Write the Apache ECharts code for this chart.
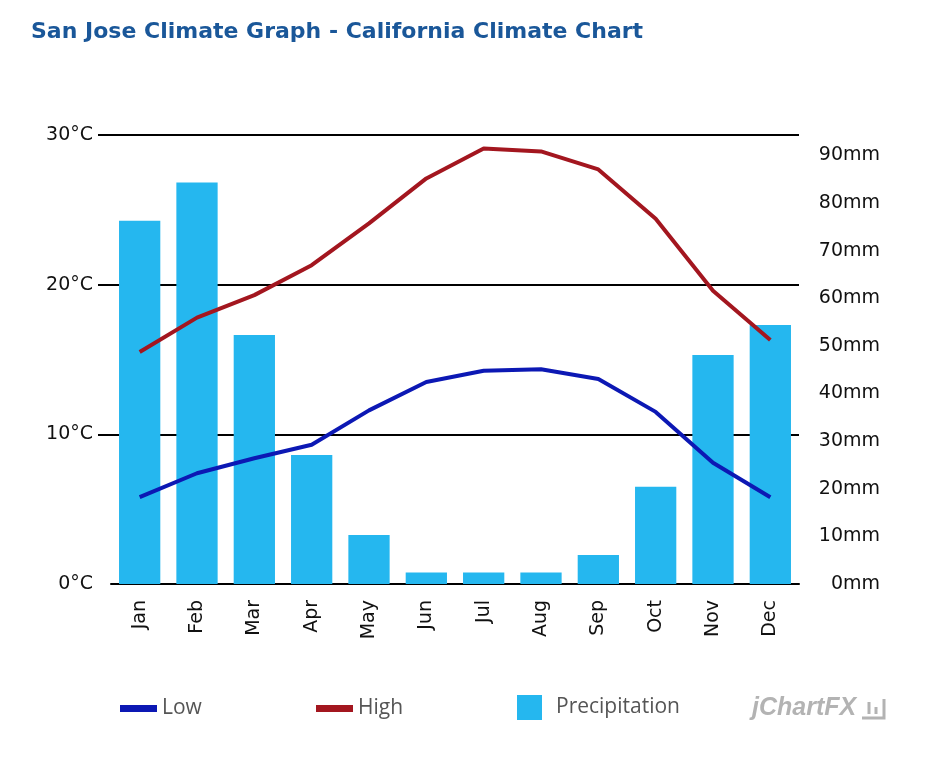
<!DOCTYPE html>
<html>
<head>
<meta charset="utf-8">
<script src="https://cdn.jsdelivr.net/npm/echarts@6/dist/echarts.min.js"></script>
<style>html,body{margin:0;padding:0;background:#fff}#c{width:926px;height:760px}</style>
</head>
<body>
<div id="c"></div>
<script>
const months = ['Jan','Feb','Mar','Apr','May','Jun','Jul','Aug','Sep','Oct','Nov','Dec'];
const lowC = [5.8, 7.4, 8.4, 9.3, 11.6, 13.5, 14.25, 14.35, 13.7, 11.5, 8.1, 5.8];
const highC = [15.5, 17.8, 19.3, 21.3, 24.1, 27.1, 29.1, 28.9, 27.7, 24.4, 19.6, 16.3];
const precipMm = [76.3, 84.3, 52.3, 27.1, 10.3, 2.4, 2.4, 2.4, 6.1, 20.4, 48.1, 54.4];
const tempTicks = [0, 10, 20, 30];
const precipMax = 94.3;

const chart = echarts.init(document.getElementById('c'), null, {renderer: 'canvas'});
const axisFont = {fontFamily: 'DejaVu Sans', fontSize: 19, color: '#111'};
const legendText = {fontFamily: 'Open Sans', fontSize: 21, color: '#555'};

chart.setOption({
  animation: false,
  title: {
    text: 'San Jose Climate Graph - California Climate Chart',
    left: 26, top: 16,
    textStyle: {fontFamily: 'DejaVu Sans', fontWeight: 'bold', fontSize: 22, color: '#1a5799'}
  },
  legend: [
    {data: ['Low'], left: 115, top: 693, icon: 'rect', itemWidth: 37, itemHeight: 7, textStyle: legendText},
    {data: ['High'], left: 311, top: 693, icon: 'rect', itemWidth: 37, itemHeight: 7, textStyle: legendText},
    {data: ['Precipitation'], left: 512, top: 690, icon: 'rect', itemWidth: 25, itemHeight: 25,
     textStyle: Object.assign({padding: [0, 0, 0, 9]}, legendText)}
  ],
  grid: {left: 111, right: 127, top: 135, bottom: 176, containLabel: false},
  xAxis: {
    type: 'category', data: months,
    axisLine: {show: true, lineStyle: {color: '#000', width: 2}},
    axisTick: {show: false},
    axisLabel: Object.assign({rotate: 90, margin: 16}, axisFont)
  },
  yAxis: [
    {
      type: 'value', min: tempTicks[0], max: tempTicks[tempTicks.length - 1], interval: 10,
      axisLine: {show: false},
      axisTick: {show: true, length: 13, lineStyle: {color: '#000', width: 2}, customValues: [10, 20, 30]},
      splitLine: {show: true, lineStyle: {color: '#000', width: 2}},
      axisLabel: Object.assign({margin: 18, formatter: '{value}°C'}, axisFont)
    },
    {
      type: 'value', min: 0, max: precipMax, interval: 10, position: 'right',
      axisLine: {show: false}, axisTick: {show: false}, splitLine: {show: false},
      axisLabel: Object.assign({margin: 81, align: 'right', showMaxLabel: false, formatter: '{value}mm'}, axisFont)
    }
  ],
  series: [
    {name: 'Precipitation', type: 'bar', yAxisIndex: 1, data: precipMm, barWidth: '72%',
     itemStyle: {color: '#25b7ef'}, z: 1},
    {name: 'Low', type: 'line', data: lowC, showSymbol: false, symbol: 'none',
     lineStyle: {color: '#0c18b4', width: 4}, itemStyle: {color: '#0c18b4'}, z: 3},
    {name: 'High', type: 'line', data: highC, showSymbol: false, symbol: 'none',
     lineStyle: {color: '#a3161f', width: 4}, itemStyle: {color: '#a3161f'}, z: 3}
  ],
  graphic: [
    {type: 'text', left: 752, top: 696, style: {text: 'jChartFX', font: 'italic bold 25px "Liberation Sans"', fill: '#b3b3b3'}},
    {type: 'polyline', shape: {points: [[869,702],[869,714]]}, style: {stroke: '#b3b3b3', lineWidth: 3}},
    {type: 'polyline', shape: {points: [[876,707],[876,714]]}, style: {stroke: '#b3b3b3', lineWidth: 3}},
    {type: 'polyline', shape: {points: [[884,699],[884,718],[862,718]]}, style: {stroke: '#b3b3b3', lineWidth: 3, fill: null}}
  ]
});
</script>
</body>
</html>
